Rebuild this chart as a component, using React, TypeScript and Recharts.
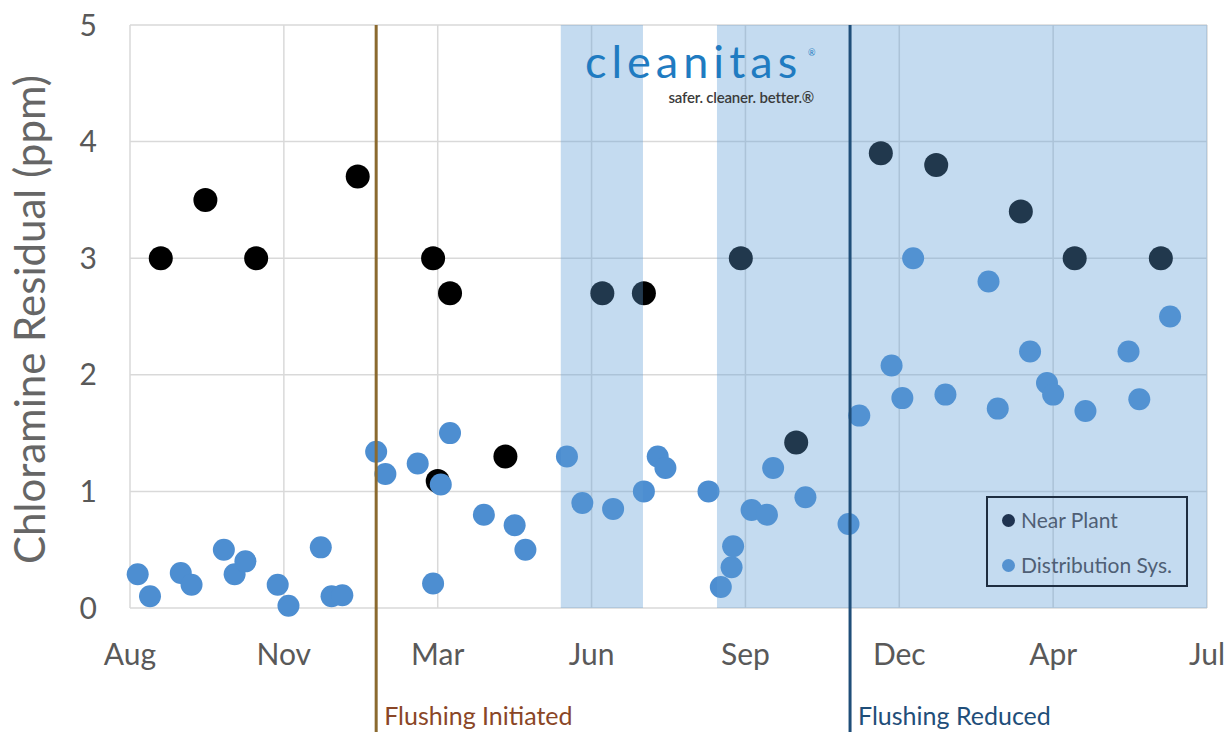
import React from "react";
import {
  ScatterChart,
  Scatter,
  XAxis,
  YAxis,
  CartesianGrid,
  ReferenceArea,
  ReferenceLine,
  Legend,
} from "recharts";

// x positions are in "tick units": 0 = Aug, 1 = Nov, ... 7 = Jul
const xTicks = [0, 1, 2, 3, 4, 5, 6, 7];
const xTickLabels = ["Aug", "Nov", "Mar", "Jun", "Sep", "Dec", "Apr", "Jul"];
const yTicks = [0, 1, 2, 3, 4, 5];

const nearPlantPos = [0.2, 0.49, 0.82, 1.48, 1.97, 2.08, 2.0, 2.44, 3.07, 3.34, 3.97, 4.33, 4.88, 5.24, 5.79, 6.14, 6.7];
const nearPlantPpm = [3.0, 3.5, 3.0, 3.7, 3.0, 2.7, 1.09, 1.3, 2.7, 2.7, 3.0, 1.42, 3.9, 3.8, 3.4, 3.0, 3.0];

const distributionPos = [
  0.05, 0.13, 0.33, 0.4, 0.61, 0.68, 0.75, 0.96, 1.03, 1.24, 1.31, 1.38,
  1.6, 1.66, 1.87, 1.97, 2.02, 2.08, 2.3, 2.5, 2.57, 2.84, 2.94, 3.14,
  3.34, 3.43, 3.48, 3.76, 3.84, 3.91, 3.92, 4.04, 4.14, 4.18, 4.39, 4.67,
  4.74, 4.95, 5.02, 5.09, 5.3, 5.58, 5.64, 5.85, 5.96, 6.0, 6.21, 6.49,
  6.56, 6.76,
];
const distributionPpm = [
  0.29, 0.1, 0.3, 0.2, 0.5, 0.29, 0.4, 0.2, 0.02, 0.52, 0.1, 0.11,
  1.34, 1.15, 1.24, 0.21, 1.06, 1.5, 0.8, 0.71, 0.5, 1.3, 0.9, 0.85,
  1.0, 1.3, 1.2, 1.0, 0.18, 0.35, 0.53, 0.84, 0.8, 1.2, 0.95, 0.72,
  1.65, 2.08, 1.8, 3.0, 1.83, 2.8, 1.71, 2.2, 1.93, 1.83, 1.69, 2.2,
  1.79, 2.5,
];

// shaded periods and events (same x units)
const shadedStart = [2.8, 3.815];
const shadedEnd = [3.334, 7];
const eventPos = [1.6, 4.68];
const eventLabels = ["Flushing Initiated", "Flushing Reduced"];
const eventLineColors = ["#8b6a2f", "#1f4e79"];
const eventTextColors = ["#8a4626", "#1f4e79"];

const nearPlantData = nearPlantPos.map((x, i) => ({ x, y: nearPlantPpm[i] }));
const distributionData = distributionPos.map((x, i) => ({ x, y: distributionPpm[i] }));

const FONT = "Lato, 'Open Sans', sans-serif";
const GRAY = "#595959";

function LegendBox() {
  const row = (color: string, label: string, top: number) => (
    <div style={{ position: "absolute", left: 14, top, display: "flex", alignItems: "center" }}>
      <span
        style={{
          width: 13,
          height: 13,
          borderRadius: "50%",
          background: color,
          display: "inline-block",
          marginRight: 6,
        }}
      />
      <span style={{ fontFamily: FONT, fontSize: 21, color: "#4f5f75", lineHeight: "22px" }}>{label}</span>
    </div>
  );
  return (
    <div
      style={{
        position: "relative",
        width: 198,
        height: 87,
        border: "2px solid #1e2d40",
        boxSizing: "content-box",
      }}
    >
      {row("#1f3350", "Near Plant", 11)}
      {row("#5592d0", "Distribution Sys.", 56)}
    </div>
  );
}

export default function App() {
  return (
    <div style={{ position: "absolute", left: 0, top: 0, width: 1230, height: 732, background: "#fff" }}>
      <ScatterChart width={1230} height={732} margin={{ top: 25, right: 23, bottom: 0, left: 0 }}>
        <CartesianGrid stroke="#d9d9d9" strokeWidth={1.5} />
        <XAxis
          type="number"
          dataKey="x"
          domain={[0, 7]}
          ticks={xTicks}
          interval={0}
          tickFormatter={(v: number) => xTickLabels[v]}
          axisLine={false}
          tickLine={false}
          tickSize={0}
          tickMargin={36}
          height={124}
          tick={{ fill: GRAY, fontSize: 30, fontFamily: FONT }}
        />
        <YAxis
          type="number"
          dataKey="y"
          domain={[0, 5]}
          ticks={yTicks}
          interval={0}
          axisLine={false}
          tickLine={false}
          tickSize={0}
          tickMargin={33}
          width={130}
          tick={{ fill: GRAY, fontSize: 30, fontFamily: FONT }}
          label={{
            content: (props: any) => {
              const vb = props.viewBox || { x: 0, y: 25, width: 130, height: 583 };
              const cx = 45;
              const cy = vb.y + vb.height / 2 + 3;
              return (
                <text
                  x={cx}
                  y={cy}
                  transform={`rotate(-90 ${cx} ${cy})`}
                  textAnchor="middle"
                  fill="#666666"
                  fontSize={42}
                  fontFamily={FONT}
                >
                  Chloramine Residual (ppm)
                </text>
              );
            },
          }}
        />
        <Scatter
          name="Near Plant"
          data={nearPlantData}
          isAnimationActive={false}
          shape={(p: any) => <circle cx={p.cx} cy={p.cy} r={12} fill="#000000" />}
        />
        <Scatter
          name="Distribution Sys."
          data={distributionData}
          isAnimationActive={false}
          shape={(p: any) => <circle cx={p.cx} cy={p.cy} r={11} fill="#4d8ed1" />}
        />
        {shadedStart.map((s, i) => (
          <ReferenceArea
            key={`area-${i}`}
            x1={s}
            x2={shadedEnd[i]}
            y1={0}
            y2={5}
            fill="#5b9bd5"
            fillOpacity={0.36}
            stroke="none"
            zIndex={700}
          />
        ))}
        {eventPos.map((x, i) => (
          <ReferenceLine
            key={`event-${i}`}
            x={x}
            zIndex={800}
            shape={(p: any) => {
              const top = Math.min(p.y1, p.y2);
              return (
                <g>
                  <line x1={p.x1} x2={p.x1} y1={top} y2={732} stroke={eventLineColors[i]} strokeWidth={3} />
                  <text x={p.x1 + 8} y={725} fill={eventTextColors[i]} fontSize={25} fontFamily={FONT}>
                    {eventLabels[i]}
                  </text>
                </g>
              );
            }}
          />
        ))}
        <Legend
          layout="vertical"
          align="center"
          verticalAlign="middle"
          content={() => <LegendBox />}
          wrapperStyle={{ position: "absolute", left: 986, top: 496, width: 202, height: 91 }}
        />
      </ScatterChart>
      <svg
        width={1230}
        height={732}
        style={{ position: "absolute", left: 0, top: 0, pointerEvents: "none" }}
      >
        <text x={585} y={78} fill="#1f7bc1" fontSize={45} fontFamily={FONT} letterSpacing={5}>
          cleanitas
        </text>
        <text x={808} y={56} fill="#1f7bc1" fontSize={9} fontFamily={FONT}>
          ®
        </text>
        <text x={814} y={103} textAnchor="end" fill="#3b3b3b" fontSize={15} fontWeight={600} fontFamily={FONT} letterSpacing={-0.2}>
          safer. cleaner. better.®
        </text>
      </svg>
    </div>
  );
}
